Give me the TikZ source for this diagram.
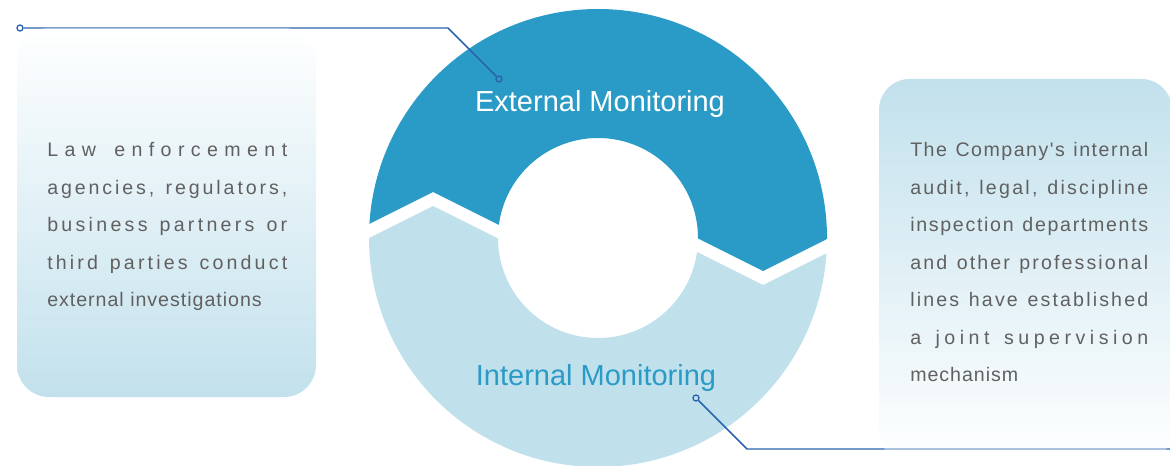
\documentclass[tikz,border=0pt]{standalone}
\usepackage{fontspec}
\setmainfont{Liberation Sans}[Ligatures=TeXOff]
\definecolor{ringdark}{HTML}{2A9BC6}
\definecolor{ringlight}{HTML}{C0E1EC}
\definecolor{boxfade}{RGB}{103,180,208}
\definecolor{leadline}{HTML}{2A64AE}
\definecolor{bodytext}{HTML}{606060}

\ExplSyntaxOn
\NewDocumentCommand \spreadline { m m }
  { \makebox[#1][s]{ \str_map_inline:nn {#2} { ##1 \hfil } \unskip } }
\ExplSyntaxOff

\begin{document}
\begin{tikzpicture}[x=0.75pt, y=-0.75pt,
  every node/.style={inner sep=0pt},
  bodyline/.style={anchor=base west, text=bodytext, font=\fontsize{14.7}{18}\selectfont},
  ringlabel/.style={anchor=base, font=\fontsize{21.75}{26}\selectfont},
  pin/.style={circle, draw=leadline, line width=1pt, minimum size=4.5pt},
  lead/.style={draw=leadline, line width=1.1pt}]
  \useasboundingbox (0,0) rectangle (1170,466);
  % upper half of the ring
  \begin{scope}
    \clip (340,0) -- (340,238.5) -- (433,192) -- (520,235.5) -- (680,229.5) -- (763,271) -- (860,222.5) -- (860,0) -- cycle;
    \fill[ringdark, even odd rule] (598,238) circle (229) (598,238) circle (100);
  \end{scope}
  % lower half of the ring
  \begin{scope}
    \clip (340,600) -- (340,252.5) -- (433,206) -- (520,249.5) -- (680,243.5) -- (763,285) -- (860,236.5) -- (860,600) -- cycle;
    \fill[ringlight, even odd rule] (598,238) circle (229) (598,238) circle (100);
  \end{scope}
  % leader lines
  \node (pinA) [pin] at (20,28) {};
  \coordinate (bendA) at (448,28);
  \node (pinB) [pin] at (499,79) {};
  \draw[lead] (pinA) -- (bendA) -- (pinB);
  \node (pinC) [pin] at (696,398) {};
  \coordinate (bendC) at (747,449);
  \coordinate (endC) at (1170,449);
  \draw[lead] (pinC) -- (bendC) -- (endC);
  % text boxes
  \shade[top color=white, bottom color=boxfade, fill opacity=0.4, rounded corners=24pt] (17,28) rectangle (316,397);
  \shade[top color=boxfade, bottom color=white, fill opacity=0.4, rounded corners=23pt] (879,79) rectangle (1172,462);
  % ring labels
  \node (extlabel) [ringlabel, text=white] at (600,112) {External Monitoring};
  \node (intlabel) [ringlabel, text=ringdark] at (596,385) {Internal Monitoring};
  % left text
  \node (lawA) [bodyline] at (47,157) {\spreadline{180pt}{Law enforcement}};
  \node (lawB) [bodyline] at (47,194.5) {\spreadline{180pt}{agencies, regulators,}};
  \node (lawC) [bodyline] at (47,232) {\spreadline{180pt}{business partners or}};
  \node (lawD) [bodyline] at (47,269.5) {\spreadline{180pt}{third parties conduct}};
  \node (lawE) [bodyline] at (47,307) {\addfontfeature{LetterSpace=5}external investigations};
  % right text
  \node (coA) [bodyline] at (910,157) {\spreadline{178.5pt}{The Company's internal}};
  \node (coB) [bodyline] at (910,194.5) {\spreadline{178.5pt}{audit, legal, discipline}};
  \node (coC) [bodyline] at (910,232) {\spreadline{178.5pt}{inspection departments}};
  \node (coD) [bodyline] at (910,269.5) {\spreadline{178.5pt}{and other professional}};
  \node (coE) [bodyline] at (910,307) {\spreadline{178.5pt}{lines have established}};
  \node (coF) [bodyline] at (910,344.5) {\spreadline{178.5pt}{a joint supervision}};
  \node (coG) [bodyline] at (910,382) {\addfontfeature{LetterSpace=5}mechanism};
\end{tikzpicture}
\end{document}
